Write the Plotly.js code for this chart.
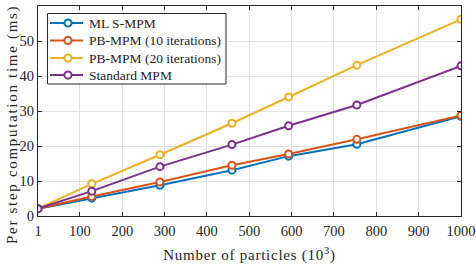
<!DOCTYPE html>
<html><head><meta charset="utf-8">
<script src="https://cdn.plot.ly/plotly-3.0.1.min.js"></script>
<style>html,body{margin:0;padding:0;background:#fff;}#chart{width:476px;height:264px;}
.xtitle{letter-spacing:0.75px;}
g.annotation[data-index="4"] text{letter-spacing:1.7px;}</style>
</head><body><div id="chart"></div>
<script>
const particles = [1, 128, 289, 459, 593, 754, 1000];
const mlsMpm = [2.1, 5.1, 8.8, 13.1, 17.1, 20.5, 28.5];
const pb10 = [2.1, 5.6, 9.7, 14.5, 17.7, 21.9, 28.7];
const pb20 = [2.1, 9.2, 17.5, 26.5, 34.0, 43.1, 56.2];
const standard = [2.1, 7.1, 14.1, 20.4, 25.8, 31.7, 42.9];
const seriesNames = ['ML S-MPM', 'PB-MPM (10 iterations)', 'PB-MPM (20 iterations)', 'Standard MPM'];
const seriesColors = ['#0072BD', '#D95319', '#EDB120', '#7E2F8E'];
const xTicks = [1, 100, 200, 300, 400, 500, 600, 700, 800, 900, 1000];
const yTicks = [0, 10, 20, 30, 40, 50, 60];
const xTitle = 'Number of particles (10<sup>3</sup>)';
const yTitle = 'Per step computation time (ms)';

const data = [mlsMpm, pb10, pb20, standard].map((ys, i) => ({
  x: particles, y: ys, name: seriesNames[i], type: 'scatter', mode: 'lines+markers',
  line: {color: seriesColors[i], width: 2},
  marker: {symbol: 'circle', size: 7, color: '#fff', line: {color: seriesColors[i], width: 2}},
  showlegend: false
}));

const fam = 'Liberation Serif';
const txt = '#262626';

// Legend drawn as shapes + annotations (paper coordinates) for MATLAB-like compact spacing
const legBox = {x0: 0.0225, x1: 0.4444, y0: 0.6286, y1: 0.9643};
const legRowsY = [0.919, 0.836, 0.752, 0.671];
const legLineX = [0.0284, 0.1064];
const legMarkX = 0.0709;
const legTextX = 0.1158;

const shapes = [{type: 'rect', xref: 'paper', yref: 'paper', x0: legBox.x0, x1: legBox.x1, y0: legBox.y0, y1: legBox.y1,
  fillcolor: '#fff', line: {color: txt, width: 1}, layer: 'above'}];
const annotations = [];
seriesNames.forEach((name, i) => {
  const yy = legRowsY[i];
  shapes.push({type: 'line', xref: 'paper', yref: 'paper', x0: legLineX[0], x1: legLineX[1], y0: yy, y1: yy,
    line: {color: seriesColors[i], width: 2}, layer: 'above'});
  shapes.push({type: 'circle', xref: 'paper', yref: 'paper', xsizemode: 'pixel', ysizemode: 'pixel',
    xanchor: legMarkX, yanchor: yy, x0: -3.6, x1: 3.6, y0: -3.6, y1: 3.6,
    fillcolor: '#fff', line: {color: seriesColors[i], width: 2}, layer: 'above'});
  annotations.push({xref: 'paper', yref: 'paper', x: legTextX, y: yy, xanchor: 'left', yanchor: 'middle',
    text: name, showarrow: false, font: {family: fam, size: 13.5, color: txt}});
});
// y-axis title (annotation so it can sit slightly below centre like the reference)
annotations.push({xref: 'paper', yref: 'paper', x: -0.0603, y: 0.438, xanchor: 'center', yanchor: 'middle',
  textangle: -90, text: yTitle, showarrow: false, font: {family: fam, size: 15, color: txt}});

const axisCommon = {
  showline: true, mirror: 'ticks', linecolor: txt, linewidth: 1,
  ticks: 'inside', ticklen: 4, tickcolor: txt,
  showgrid: true, gridcolor: '#e3e3e3', zeroline: false,
  tickfont: {family: fam, size: 14.5, color: txt}
};
const layout = {
  width: 476, height: 264,
  margin: {l: 38, r: 15, t: 6, b: 48},
  paper_bgcolor: '#fff', plot_bgcolor: '#fff',
  font: {family: fam, color: txt},
  showlegend: false,
  shapes: shapes,
  annotations: annotations,
  xaxis: Object.assign({}, axisCommon, {
    range: [1, 1000], tickvals: xTicks, ticktext: xTicks.map(String), ticklabelstandoff: 2,
    title: {text: xTitle, font: {family: fam, size: 15, color: txt}, standoff: 13}
  }),
  yaxis: Object.assign({}, axisCommon, {
    range: [0, 60], tickvals: yTicks, ticktext: yTicks.map(String)
  })
};
Plotly.newPlot('chart', data, layout, {displayModeBar: false, staticPlot: true});
</script></body></html>
